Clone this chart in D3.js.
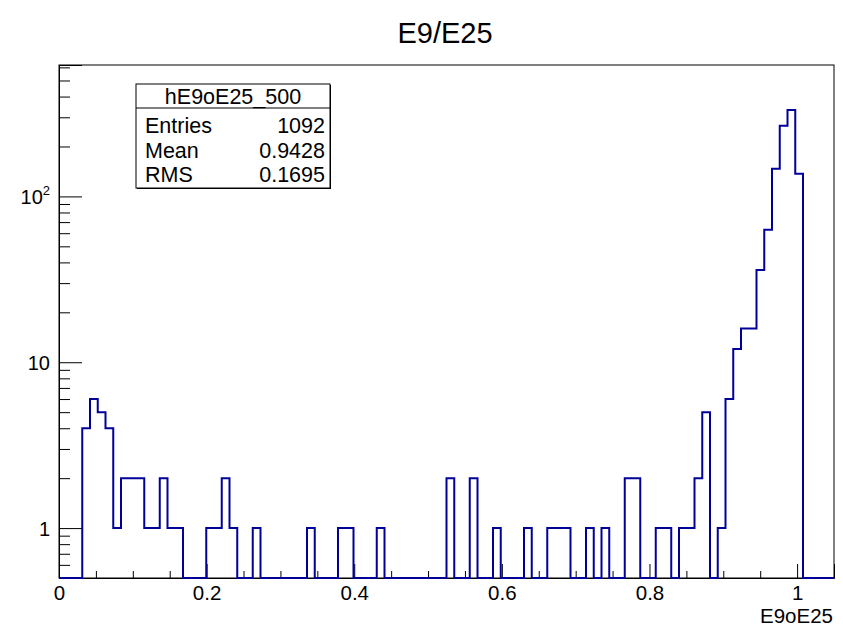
<!DOCTYPE html>
<html>
<head>
<meta charset="utf-8">
<script src="https://cdn.jsdelivr.net/npm/d3@7"></script>
<style>
  body { margin: 0; background: #fff; }
  text { font-family: "Liberation Sans", Arial, Helvetica, sans-serif; }
</style>
</head>
<body>
<div id="chart"></div>
<script>
// histogram data: 100 bins from 0 to 1.05
const xMin = 0, xMax = 1.05, nBins = 100;
const counts = [
  0, 0, 0, 4, 6, 5, 4, 1, 2, 2,
  2, 1, 1, 2, 1, 1, 0, 0, 0, 1,
  1, 2, 1, 0, 0, 1, 0, 0, 0, 0,
  0, 0, 1, 0, 0, 0, 1, 1, 0, 0,
  0, 1, 0, 0, 0, 0, 0, 0, 0, 0,
  2, 0, 0, 2, 0, 0, 1, 0, 0, 0,
  1, 0, 0, 1, 1, 1, 0, 0, 1, 0,
  1, 0, 0, 2, 2, 0, 0, 1, 1, 0,
  1, 1, 2, 5, 0, 1, 6, 12, 16, 16,
  36, 63, 147, 267, 332, 137, 0, 0, 0, 0
];
const xTicks = [0, 0.2, 0.4, 0.6, 0.8, 1];
const yMajor = [1, 10, 100];
const yMinor = [0.6, 0.7, 0.8, 0.9, 2, 3, 4, 5, 6, 7, 8, 9, 20, 30, 40, 50, 60, 70, 80, 90, 200, 300, 400, 500, 600];
const statLabels = ["Entries", "Mean", "RMS"];
const statValues = ["1092", "0.9428", "0.1695"];

const W = 843, H = 627;
const margin = { top: 65, right: 9, bottom: 49, left: 59 };
const histColor = "#000099";

const svg = d3.select("#chart").append("svg")
  .attr("width", W)
  .attr("height", H);

const x = d3.scaleLinear().domain([xMin, xMax]).range([margin.left, W - margin.right]);
const y = d3.scaleLog().domain([0.5, 620]).range([H - margin.bottom, margin.top]).clamp(true);

// frame
svg.append("rect")
  .attr("x", x(xMin)).attr("y", margin.top)
  .attr("width", x(xMax) - x(xMin)).attr("height", H - margin.bottom - margin.top)
  .attr("fill", "none").attr("stroke", "black").attr("stroke-width", 1);

// x minor ticks every 0.05
const xMinor = d3.range(0, 21).map(i => i * 0.05).filter(v => xTicks.indexOf(+v.toFixed(2)) < 0);
svg.append("g")
  .attr("transform", `translate(0,${H - margin.bottom})`)
  .call(d3.axisBottom(x).tickValues(xMinor).tickSize(-7).tickFormat(""))
  .call(g => g.select(".domain").remove());

// x major ticks
svg.append("g")
  .attr("transform", `translate(0,${H - margin.bottom})`)
  .call(d3.axisBottom(x).tickValues(xTicks).tickSize(-14).tickFormat(d => d === 0 ? "0" : d === 1 ? "1" : d3.format(".1f")(d)))
  .call(g => g.select(".domain").attr("stroke", "black"))
  .call(g => g.selectAll("text").attr("font-size", 20.5).attr("fill", "black").attr("dy", 0).attr("y", 22));

// y minor ticks
svg.append("g")
  .attr("transform", `translate(${margin.left},0)`)
  .call(d3.axisLeft(y).tickValues(yMinor).tickSize(-11).tickFormat(""))
  .call(g => g.select(".domain").remove());

// y major ticks
const yAx = svg.append("g")
  .attr("transform", `translate(${margin.left},0)`)
  .call(d3.axisLeft(y).tickValues(yMajor).tickSize(-23).tickFormat(""))
  .call(g => g.select(".domain").attr("stroke", "black"));

yAx.selectAll(".tick").each(function (d) {
  const t = d3.select(this).append("text")
    .attr("x", -9).attr("y", 7)
    .attr("text-anchor", "end")
    .attr("font-size", 20)
    .attr("fill", "black");
  if (d === 100) {
    t.attr("x", -9);
    t.append("tspan").text("10");
    t.append("tspan").text("2").attr("font-size", 13).attr("dy", -9);
  } else {
    t.text(d);
  }
});

// histogram step line
const binW = (xMax - xMin) / nBins;
const pts = counts.map((c, i) => [xMin + i * binW, c]);
pts.push([xMax, counts[nBins - 1]]);
const line = d3.line()
  .x(d => x(d[0]))
  .y(d => d[1] > 0 ? y(d[1]) : y(0.5))
  .curve(d3.curveStepAfter);

svg.append("path")
  .datum(pts)
  .attr("d", line)
  .attr("fill", "none")
  .attr("stroke", histColor)
  .attr("stroke-width", 2);

// title
svg.append("text")
  .attr("x", 445).attr("y", 43)
  .attr("text-anchor", "middle")
  .attr("font-size", 29)
  .text("E9/E25");

// x axis title
svg.append("text")
  .attr("x", 833).attr("y", 623)
  .attr("text-anchor", "end")
  .attr("font-size", 20.5)
  .text("E9oE25");

// stats box
const box = { x: 136, y: 84, w: 194, h: 104, head: 24 };
svg.append("rect")
  .attr("x", box.x + 1).attr("y", box.y + 1)
  .attr("width", box.w).attr("height", box.h)
  .attr("fill", "black");
svg.append("rect")
  .attr("x", box.x).attr("y", box.y)
  .attr("width", box.w).attr("height", box.h)
  .attr("fill", "white").attr("stroke", "black");
svg.append("line")
  .attr("x1", box.x).attr("x2", box.x + box.w)
  .attr("y1", box.y + box.head).attr("y2", box.y + box.head)
  .attr("stroke", "black");
svg.append("text")
  .attr("x", box.x + box.w / 2).attr("y", box.y + 20)
  .attr("text-anchor", "middle")
  .attr("font-size", 21.5)
  .text("hE9oE25_500");

statLabels.forEach((s, i) => {
  const yy = box.y + box.head + 25 + i * 24.5;
  svg.append("text")
    .attr("x", box.x + 9).attr("y", yy)
    .attr("font-size", 21.5)
    .text(s);
  svg.append("text")
    .attr("x", box.x + box.w - 5).attr("y", yy)
    .attr("text-anchor", "end")
    .attr("font-size", 21.5)
    .text(statValues[i]);
});
</script>
</body>
</html>
